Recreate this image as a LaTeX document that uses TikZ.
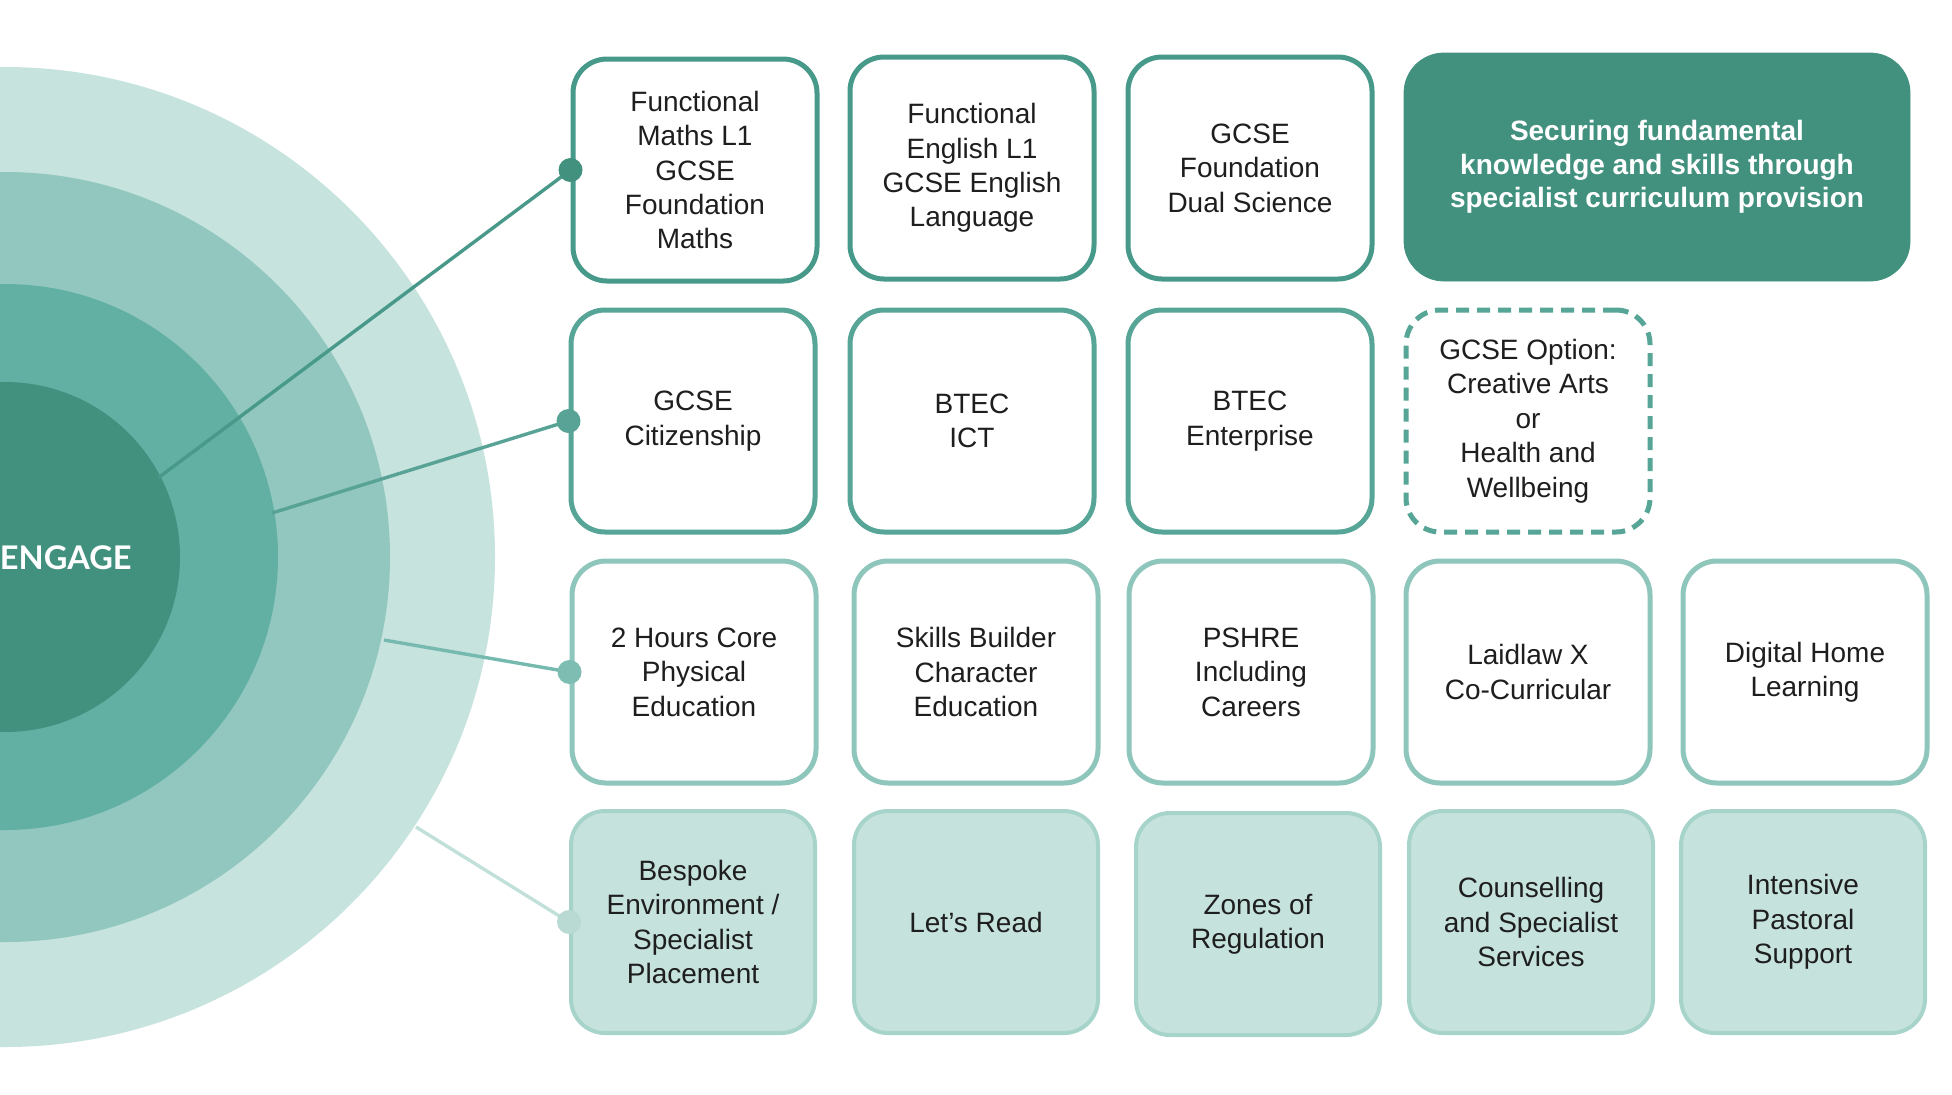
\documentclass[tikz,border=0pt]{standalone}
\usepackage{fontspec}
\setmainfont{Liberation Sans}
\newfontfamily\engfont{Lato}
\definecolor{ringA}{HTML}{C7E3DE}
\definecolor{ringB}{HTML}{92C7BF}
\definecolor{ringC}{HTML}{62AFA3}
\definecolor{ringD}{HTML}{42917F}
\definecolor{lineA}{HTML}{48998A}
\definecolor{lineB}{HTML}{58A395}
\definecolor{lineC}{HTML}{76B9AE}
\definecolor{lineD}{HTML}{C2E0DA}
\definecolor{dotC}{HTML}{7DBDB2}
\definecolor{dotD}{HTML}{B8DAD3}
\definecolor{bordA}{HTML}{47998A}
\definecolor{bordB}{HTML}{56A597}
\definecolor{bordC}{HTML}{8EC6BC}
\definecolor{bordD}{HTML}{A6D4CB}
\definecolor{fillD}{HTML}{C6E2DD}
\definecolor{txt}{HTML}{1E1E1E}
\begin{document}
\begin{tikzpicture}[x=0.5pt,y=-0.5pt,
  box/.style={rectangle, rounded corners=17pt, line width=2.5pt, fill=white,
    minimum width=122pt, minimum height=111pt, align=center, text=txt,
    font=\fontsize{14}{17.2}\selectfont, inner sep=2pt},
  rowA/.style={box, draw=bordA},
  rowB/.style={box, draw=bordB},
  rowC/.style={box, draw=bordC},
  rowD/.style={box, draw=bordD, fill=fillD, line width=2pt},
  dashbox/.style={box, draw=bordB, dash pattern=on 6.5pt off 4pt},
  header/.style={rectangle, rounded corners=20pt, fill=ringD, draw=ringD,
    minimum width=253pt, minimum height=114pt, align=center, text=white,
    font=\fontsize{14}{16.8}\selectfont\bfseries},
  conn/.style={line width=1.7pt},
  dot/.style={circle, inner sep=0pt, minimum size=12pt}
]
\useasboundingbox (0,0) rectangle (1952,1094);
\begin{scope}
  \clip (0,0) rectangle (1952,1094);
  \fill[ringA] (5,557) circle (245pt);
  \fill[ringB] (5,557) circle (192.5pt);
  \fill[ringC] (5,557) circle (136.5pt);
  \fill[ringD] (5,557) circle (87.5pt);
\end{scope}
\node[anchor=east, text=white, inner sep=0pt,
  font=\engfont\bfseries\fontsize{16.3}{20}\selectfont] (eng) at (132,558) {ENGAGE};

% row 1
\node[rowA] (a1) at (695,170) {Functional\\Maths L1\\GCSE\\Foundation\\Maths};
\node[rowA] (a2) at (972,168) {Functional\\English L1\\GCSE English\\Language};
\node[rowA] (a3) at (1250,168) {GCSE\\Foundation\\Dual Science};
\node[header] (hd) at (1657,167) {Securing fundamental\\knowledge and skills through\\specialist curriculum provision};
% row 2
\node[rowB] (b1) at (693,421) {GCSE\\Citizenship};
\node[rowB] (b2) at (972,421) {BTEC\\ICT};
\node[rowB] (b3) at (1250,421) {BTEC\\Enterprise};
\node[dashbox] (b4) at (1528,421) {GCSE Option:\\Creative Arts\\or\\Health and\\Wellbeing};
% row 3
\node[rowC] (c1) at (694,672) {2 Hours Core\\Physical\\Education};
\node[rowC] (c2) at (976,672) {Skills Builder\\Character\\Education};
\node[rowC] (c3) at (1251,672) {PSHRE\\Including\\Careers};
\node[rowC] (c4) at (1528,672) {Laidlaw X\\Co-Curricular};
\node[rowC] (c5) at (1805,672) {Digital Home\\Learning};
% row 4
\node[rowD] (d1) at (693,922) {Bespoke\\Environment /\\Specialist\\Placement};
\node[rowD] (d2) at (976,922) {Let’s Read};
\node[rowD] (d3) at (1258,924) {Zones of\\Regulation};
\node[rowD] (d4) at (1531,922) {Counselling\\and Specialist\\Services};
\node[rowD] (d5) at (1803,922) {Intensive\\Pastoral\\Support};

% connectors
\coordinate (s1) at (158,478);
\coordinate (s2) at (272,513);
\coordinate (s3) at (384,640);
\coordinate (s4) at (416,827);
\draw[conn, lineA] (s1) -- (a1.west);
\draw[conn, lineB] (s2) -- (b1.west);
\draw[conn, lineC] (s3) -- (c1.west);
\draw[conn, lineD] (s4) -- (d1.west);
\node[dot, fill=ringD] (p1) at (a1.west) {};
\node[dot, fill=lineB] (p2) at (b1.west) {};
\node[dot, fill=dotC] (p3) at (c1.west) {};
\node[dot, fill=dotD] (p4) at (d1.west) {};
\end{tikzpicture}
\end{document}
